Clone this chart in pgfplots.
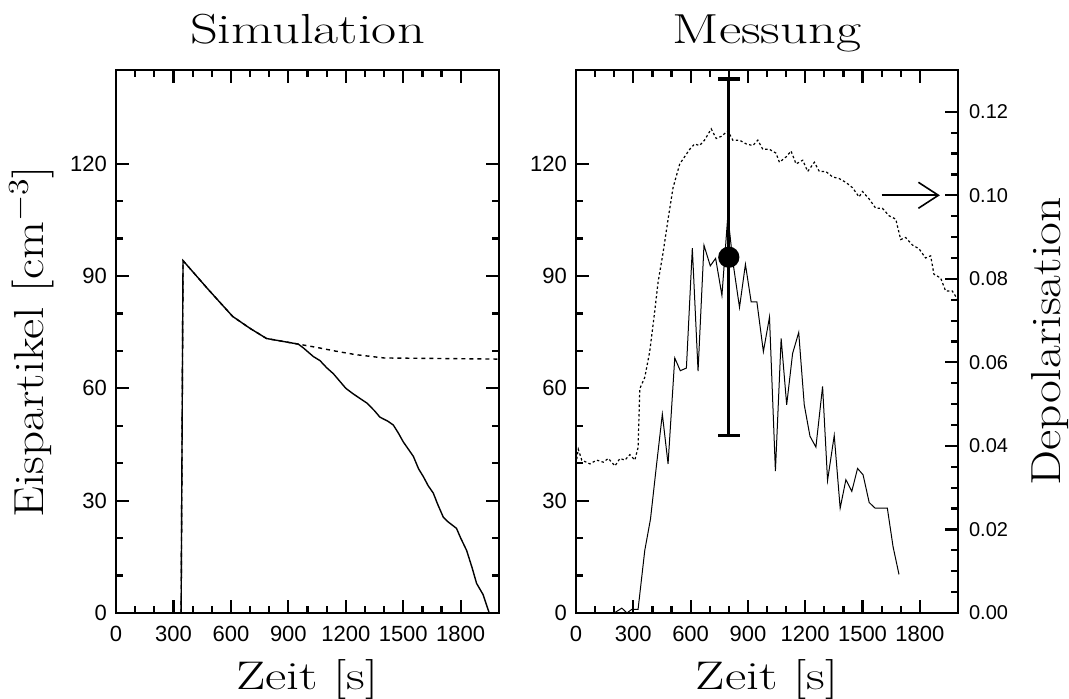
\documentclass[border=0pt]{standalone}
\usepackage{fontspec}
\usepackage{pgfplots}
\pgfplotsset{compat=1.18}
\usetikzlibrary{arrows.meta}
\newfontfamily\tickfont{Liberation Sans}

\pgfplotsset{
  panel/.style={
    scale only axis, width=191.5pt, height=271.5pt,
    anchor=south west,
    xmin=0, xmax=2000, ymin=0, ymax=145,
    xtick={0,300,600,900,1200,1500,1800}, minor x tick num=2,
    ytick={0,30,60,90,120}, minor y tick num=2,
    scaled ticks=false,
    /pgf/number format/1000 sep={},
    /pgf/number format/assume math mode=true,
    axis line style={line width=1.3pt},
    tick style={line width=1.1pt, black},
    major tick length=6.5pt, minor tick length=3.5pt,
    tick align=inside,
    ticklabel style={font=\tickfont\fontsize{11}{13}\selectfont},
    xticklabel style={yshift=-3pt},
    yticklabel style={xshift=-1pt},
    title style={font=\fontsize{21}{24}\selectfont, at={(axis description cs:0.5,1.0497)}, anchor=base, yshift=-6pt},
    xlabel style={font=\fontsize{20}{24}\selectfont, at={(axis description cs:0.5,-0.1418)}, anchor=base},
    ylabel style={font=\fontsize{21}{24}\selectfont},
  }
}

\begin{document}
\begin{tikzpicture}
\useasboundingbox (0,0) rectangle (534.5pt,349.5pt);

% ---------------- left panel: Simulation
\begin{axis}[panel, at={(58pt,43pt)},
  title={\scalebox{1.3}[1]{Simulation}}, xlabel={\scalebox{1.3}[1]{Zeit [s]}},
  ylabel={\scalebox{1.17}[1]{Eispartikel [cm$^{-3}$]}},
  ylabel style={at={(axis description cs:-0.1906,0.5)}, anchor=base, rotate=0},
]
\addplot[black, line width=0.7pt] coordinates {
(340,0) (350,94.1) (480,86.5) (609,79.2) (700,76.0) (786,73.3) (952,71.8)
(978,70.8) (1030,68.5) (1065,67.4) (1100,65.5) (1135,63.9) (1200,60.0)
(1239,58.5) (1309,56.1) (1350,54.0) (1378,52.3) (1420,51.2) (1448,50.2)
(1475,48.0) (1500,45.7) (1530,43.5) (1553,41.8) (1580,38.5) (1605,36.4)
(1630,34.0) (1657,32.0) (1680,29.0) (1709,25.6) (1730,24.5) (1778,22.6)
(1800,20.0) (1831,16.7) (1860,12.0) (1883,7.9) (1917,4.9) (1949,0)
};
\addplot[black, line width=0.7pt, dash pattern=on 2pt off 2pt] coordinates {
(340,0) (350,94.1) (480,86.5) (609,79.2) (700,76.0) (786,73.3) (952,71.8)
(1050,70.9) (1150,69.9) (1250,69.0) (1350,68.4) (1400,68.1) (1600,68.0) (2000,67.8)
};
\end{axis}

% ---------------- right panel: Messung (left axis)
\begin{axis}[panel, at={(288pt,43pt)}, width=191pt,
  title={\scalebox{1.3}[1]{Messung}}, xlabel={\scalebox{1.3}[1]{Zeit [s]}},
  ytick pos=left,
]
\addplot[black, line width=0.5pt] coordinates {
(200,0) (240,1.3) (267,0) (293,1.0) (325,1.0) (360,16.7) (390,25.1) (421,39.3)
(452,53.1) (482,39.8) (517,68.1) (546,64.7) (578,65.4) (609,97.4) (639,64.6)
(670,98.2) (703,92.7) (731,94.7) (764,84.8) (795,106.2) (821,93.9) (856,81.6)
(887,93.1) (917,83.1) (947,83.1) (981,69.8) (1013,79.0) (1044,37.9) (1074,73.3)
(1103,55.6) (1134,69.3) (1166,74.9) (1195,55.6) (1225,47.2) (1256,44.3)
(1291,60.5) (1317,35.4) (1352,47.4) (1383,28.0) (1413,35.6) (1444,32.5)
(1474,38.6) (1503,36.9) (1535,29.5) (1566,28.0) (1601,28.0) (1630,28.0)
(1660,17.7) (1691,10.3)
};
\addplot[black, line width=1.6pt, mark=*, mark size=4.5pt,
  error bars/.cd, y dir=both, y explicit,
  error mark=-, error bar style={line width=1.6pt},
  error mark options={line width=1.6pt, mark size=5.5pt, rotate=90}]
  coordinates {(800,95) +- (0,47.6)};
\end{axis}

% ---------------- right panel: Depolarisation (right axis)
\begin{axis}[panel, at={(288pt,43pt)}, width=191pt,
  ymin=0, ymax=0.13,
  axis x line=none, axis y line*=right,
  ytick={0,0.02,0.04,0.06,0.08,0.10,0.12}, minor y tick num=3,
  yticklabel style={/pgf/number format/fixed, /pgf/number format/fixed zerofill,
    /pgf/number format/precision=2, xshift=3pt,
    font=\tickfont\fontsize{10}{12}\selectfont},
  ylabel={\scalebox{1.18}[1]{Depolarisation}},
  ylabel style={at={(axis description cs:1.267,0.5)}, anchor=base, rotate=0},
]
\addplot[black, line width=0.6pt, dash pattern=on 1.2pt off 1.2pt] coordinates {
(0,0.0357) (12,0.0392) (30,0.0366) (73,0.0357) (108,0.0366) (143,0.0361)
(169,0.0370) (204,0.0352) (230,0.0370) (256,0.0366) (282,0.0379) (308,0.0366)
(325,0.0396) (334,0.0537) (360,0.0564) (386,0.0626) (412,0.0722) (430,0.0793)
(456,0.0863) (482,0.0943) (508,0.1018) (543,0.1075) (595,0.1110) (621,0.1123)
(647,0.1119) (673,0.1132) (708,0.1159) (734,0.1136) (760,0.1141) (795,0.1154)
(821,0.1132) (856,0.1132) (891,0.1123) (926,0.1119) (952,0.1132) (978,0.1110)
(1013,0.1110) (1047,0.1101) (1065,0.1079) (1100,0.1092) (1126,0.1106)
(1152,0.1075) (1187,0.1084) (1213,0.1057) (1248,0.1079) (1274,0.1057)
(1308,0.1057) (1343,0.1044) (1378,0.1040) (1413,0.1031) (1448,0.1018)
(1482,0.0996) (1500,0.1009) (1535,0.0991) (1569,0.0969) (1604,0.0969)
(1639,0.0951) (1674,0.0943) (1700,0.0894) (1726,0.0899) (1761,0.0881)
(1796,0.0872) (1830,0.0850) (1857,0.0855) (1874,0.0811) (1909,0.0802)
(1935,0.0771) (1970,0.0771) (2000,0.0749)
};
\addplot[black, line width=0.8pt, -{Straight Barb[length=10pt, width=13pt]}]
  coordinates {(1600,0.10) (1905,0.10)};
\end{axis}
\end{tikzpicture}
\end{document}
